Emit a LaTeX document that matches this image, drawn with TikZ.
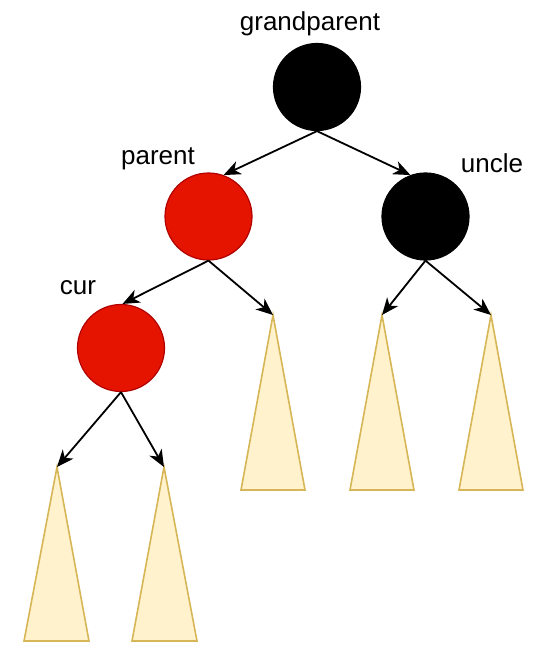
\documentclass[tikz,border=0pt]{standalone}
\usepackage{fontspec}
\setmainfont{Liberation Sans}
\usetikzlibrary{arrows.meta}
\definecolor{rbRed}{HTML}{E51400}
\definecolor{rbRedLine}{HTML}{B20000}
\definecolor{subFill}{HTML}{FFF2CC}
\definecolor{subLine}{HTML}{D6B656}

\begin{document}
\begin{tikzpicture}[
  x=1pt, y=-1pt,
  font=\fontsize{26}{31}\selectfont,
  rednode/.style={circle, minimum size=87pt, inner sep=0pt, fill=rbRed, draw=rbRedLine, line width=1.2pt},
  blacknode/.style={circle, minimum size=87pt, inner sep=0pt, fill=black, draw=black, line width=1.2pt},
  subtree/.style={fill=subFill, draw=subLine, line width=1.6pt, line join=miter},
  arr/.style={-{Stealth[length=17pt, width=14pt, inset=5pt]}, line width=1.8pt},
  lbl/.style={inner sep=0pt}
]
\useasboundingbox (0,0) rectangle (551,651);

% Nodes
\node[blacknode] (gp) at (317,87) {};
\node[rednode] (par) at (208.5,216.5) {};
\node[blacknode] (unc) at (425.5,216.5) {};
\node[rednode] (cur) at (121,348) {};

% Labels
\node[lbl] (gplbl) at (310,24) {grandparent};
\node[lbl] (parlbl) at (158,159) {parent};
\node[lbl] (unclbl) at (492,163) {uncle};
\node[lbl] (curlbl) at (78,288) {cur};

% Subtrees
\coordinate (sibtop) at (273,315);
\coordinate (ultop) at (382,315);
\coordinate (urtop) at (491,315);
\coordinate (cltop) at (57,467);
\coordinate (crtop) at (164,467);
\draw[subtree] (sibtop) -- (305,490) -- (241,490) -- cycle;
\draw[subtree] (ultop) -- (414,490) -- (350,490) -- cycle;
\draw[subtree] (urtop) -- (523,490) -- (459,490) -- cycle;
\draw[subtree] (cltop) -- (89,641) -- (24,641) -- cycle;
\draw[subtree] (crtop) -- (197,641) -- (132,641) -- cycle;

% Edges
\draw[arr] (gp.south) -- (par.70);
\draw[arr] (gp.south) -- (unc.110);
\draw[arr] (par.south) -- (cur.88);
\draw[arr] (par.south) -- (sibtop);
\draw[arr] (unc.south) -- (ultop);
\draw[arr] (unc.south) -- (urtop);
\draw[arr] (cur.south) -- (cltop);
\draw[arr] (cur.south) -- (crtop);

\end{tikzpicture}
\end{document}
